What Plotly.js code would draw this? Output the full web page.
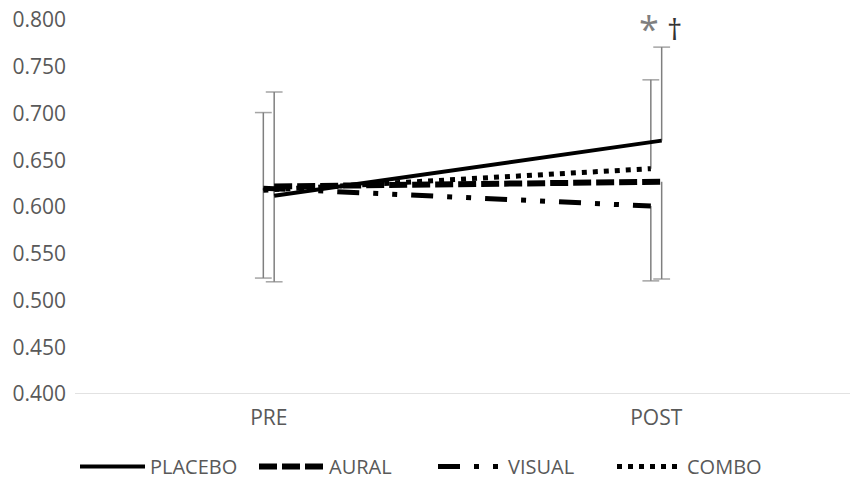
<!DOCTYPE html>
<html>
<head>
<meta charset="utf-8">
<script src="https://cdn.plot.ly/plotly-3.0.1.min.js"></script>
<style>html,body{margin:0;padding:0;background:#fff;}#chart{width:866px;height:481px;}</style>
</head>
<body>
<div id="chart"></div>
<script>
// Data
const categories = ['PRE', 'POST'];
const seriesNames = ['PLACEBO', 'AURAL', 'VISUAL', 'COMBO'];
const placebo = [0.612, 0.671];
const aural = [0.622, 0.627];
const visual = [0.620, 0.601];
const combo = [0.618, 0.641];
// one-sided error bars: + goes up, - goes down
const placeboErr = [0.111, 0.100];
const auralErr = [-0.102, -0.104];
const visualErr = [-0.096, -0.080];
const comboErr = [0.083, 0.095];
const annotationsText = ['*', '†'];

const catIdx = categories.map((c, i) => i);
const shift = (d) => catIdx.map(i => i + d);

const errColor = '#7f7f7f';
// error bar stems with a cap only at the far end
function errTrace(vals, errs, d) {
  const x = [], y = [], sz = [];
  catIdx.forEach((i, k) => {
    if (k > 0) { x.push(null); y.push(null); sz.push(0); }
    x.push(i + d, i + d);
    y.push(vals[k], vals[k] + errs[k]);
    sz.push(0, 12);
  });
  return {
    x: x, y: y, type: 'scatter', mode: 'lines+markers', showlegend: false, hoverinfo: 'skip',
    line: {color: errColor, width: 1.5},
    marker: {symbol: 'line-ew', size: sz, color: errColor, line: {color: errColor, width: 1.5}}
  };
}
const L = -0.014, R = 0.014;
const traces = [
  errTrace(combo, comboErr, L),
  errTrace(visual, visualErr, L),
  errTrace(placebo, placeboErr, R),
  errTrace(aural, auralErr, R),
  {x: shift(R), y: placebo, name: seriesNames[0], type: 'scatter', mode: 'lines',
    line: {color: '#000', width: 4}},
  {x: shift(R), y: aural, name: seriesNames[1], type: 'scatter', mode: 'lines',
    line: {color: '#000', width: 6, dash: '18px,5px'}},
  {x: shift(L), y: visual, name: seriesNames[2], type: 'scatter', mode: 'lines',
    line: {color: '#000', width: 5, dash: '22px,14px,5px,14px,5px,14px'}},
  {x: shift(L), y: combo, name: seriesNames[3], type: 'scatter', mode: 'lines',
    line: {color: '#000', width: 5, dash: '5px,6px'}}
];

const layout = {
  width: 866, height: 481,
  margin: {l: 75, r: 16, t: 20, b: 87},
  paper_bgcolor: '#fff', plot_bgcolor: '#fff',
  font: {family: 'Open Sans, sans-serif', color: '#595959', size: 20},
  xaxis: {
    range: [-0.5, 1.5], tickvals: catIdx, ticktext: categories,
    showgrid: false, zeroline: false, showline: false, ticks: '',
    tickfont: {size: 21, color: '#595959'}, ticklabelstandoff: 9, fixedrange: true
  },
  yaxis: {
    range: [0.4, 0.8], dtick: 0.05, tickformat: '.3f',
    showgrid: false, zeroline: false, showline: false, ticks: '',
    tickfont: {size: 21, color: '#595959'}, ticklabelstandoff: 8
  },
  shapes: [{type: 'line', xref: 'paper', yref: 'y', x0: 0, x1: 1, y0: 0.4, y1: 0.4,
    line: {color: '#d9d9d9', width: 1.5}}],
  legend: {orientation: 'h', x: 0, xanchor: 'left', xref: 'paper',
    y: 0.03, yanchor: 'middle', yref: 'container',
    font: {size: 20, color: '#595959'}, itemwidth: 65, entrywidth: 99, traceorder: 'normal'},
  annotations: [
    {x: 1, y: 0.791, xref: 'x', yref: 'y', text: annotationsText[0], showarrow: false,
      xshift: -7, font: {size: 36, color: '#7f7f7f'}},
    {x: 1, y: 0.791, xref: 'x', yref: 'y', text: annotationsText[1], showarrow: false,
      xshift: 18, font: {size: 30, color: '#333333'}}
  ],
  showlegend: true
};

Plotly.newPlot('chart', traces, layout, {displayModeBar: false, staticPlot: true});
</script>
</body>
</html>
